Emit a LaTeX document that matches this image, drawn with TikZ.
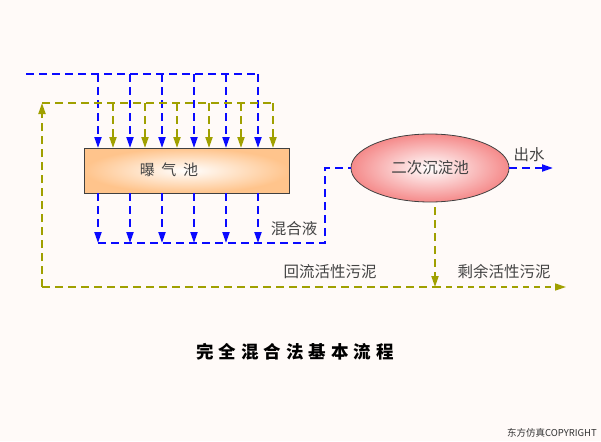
\documentclass[tikz,border=0pt]{standalone}
\usepackage{fontspec}
\newfontfamily\cjk{Noto Sans CJK SC}
\usetikzlibrary{arrows.meta,shapes.geometric}
\definecolor{bgcol}{HTML}{FFFAF8}
\definecolor{flowblue}{HTML}{0A0AFF}
\definecolor{sludge}{HTML}{A0A000}
\definecolor{labelgray}{HTML}{444444}
\definecolor{boxedge}{HTML}{FFC48C}
\definecolor{elledge}{HTML}{F58A8A}
\tikzset{
  blueflow/.style={draw=flowblue, line width=2pt, dash pattern=on 8pt off 5pt},
  sludgeflow/.style={draw=sludge, line width=2pt, dash pattern=on 8pt off 5pt},
  thinsludge/.style={draw=sludge, line width=1.5pt, dash pattern=on 6pt off 5pt},
  arrowend/.style={-{Triangle[length=11pt,width=7pt]}},
  lbl/.style={font=\cjk\fontsize{15.5}{17}\selectfont, text=labelgray, inner sep=0pt},
}
\begin{document}
\begin{tikzpicture}[x=1pt,y=-1pt]
\fill[bgcol] (0,0) rectangle (601,441);
\useasboundingbox (0,0) rectangle (601,441);

% tanks
\node[draw=black!75, line width=0.8pt, rectangle, minimum width=205pt, minimum height=45pt,
      inner color=white, outer color=boxedge] (aer) at (186.5,170.5) {};
\node[lbl, font=\cjk\fontsize{15}{17}\selectfont] (aerlbl) at (169,170) {曝\hspace{0.45em}气\hspace{0.45em}池};
\node[draw=black!75, line width=0.8pt, ellipse, minimum width=158pt, minimum height=68pt,
      inner sep=0pt, inner color=white, outer color=elledge] (sec) at (430,168) {};
\node[lbl] (seclbl) at (sec.center) {二次沉淀池};

% air / influent (blue) top
\coordinate (bstart) at (26,74);
\coordinate (bend) at (258,74);
\draw[blueflow] (bstart) -- (bend);
\foreach \x in {98,130,162,194,226,258}{
  \coordinate (bt\x) at (\x,74);
  \coordinate (bb\x) at (\x,148);
  \draw[blueflow, arrowend] (bt\x) -- (bb\x);
}

% return sludge (olive) top
\coordinate (ocorner) at (42,103);
\coordinate (oend) at (273,103);
\coordinate (obot) at (42,287);
\draw[sludgeflow, arrowend] (obot) -- (ocorner);
\draw[sludgeflow] (ocorner) -- (oend);
\foreach \x in {113,145,177,209,241,273}{
  \coordinate (ot\x) at (\x,103);
  \coordinate (ob\x) at (\x,148);
  \draw[sludgeflow, arrowend] (ot\x) -- (ob\x);
}

% mixed liquor (blue) bottom
\foreach \x in {98,130,162,194,226,258}{
  \coordinate (ct\x) at (\x,193);
  \coordinate (cb\x) at (\x,243);
  \draw[blueflow, arrowend] (ct\x) -- (cb\x);
}
\coordinate (mlturn) at (325,243);
\draw[blueflow] (cb98) -- (mlturn) |- (sec.west);

% effluent
\coordinate (effl) at (553,168);
\draw[blueflow, arrowend] (sec.east) -- (effl);

% sludge from clarifier
\coordinate (sdrop) at (435,207);
\coordinate (sjoin) at (435,287);
\coordinate (waste) at (566,287);
\draw[sludgeflow, arrowend] (sdrop) -- (sjoin);
\draw[sludgeflow] (obot) -- (sjoin);
\draw[thinsludge, arrowend] (sjoin) -- (waste);

% labels
\node[lbl] (lblout) at (529,155) {出水};
\node[lbl] (lblmix) at (294,229) {混合液};
\node[lbl] (lblret) at (330,272) {回流活性污泥};
\node[lbl] (lblwas) at (504,272) {剩余活性污泥};
\node[font=\cjk\bfseries\fontsize{17.5}{20}\selectfont, inner sep=0pt] (title) at (295,352)
  {完\hspace{5pt}全\hspace{5pt}混\hspace{5pt}合\hspace{5pt}法\hspace{5pt}基\hspace{5pt}本\hspace{5pt}流\hspace{5pt}程};
\node[font=\cjk\fontsize{9.5}{11}\selectfont, text=black!80, inner sep=0pt, anchor=east] (copy) at (597,433) {东方仿真COPYRIGHT};
\end{tikzpicture}
\end{document}
